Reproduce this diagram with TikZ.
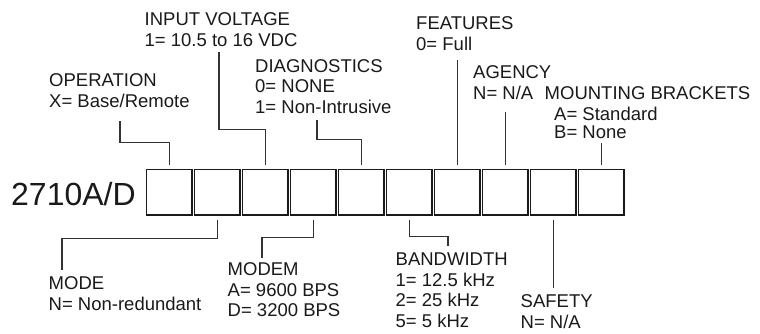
\documentclass[tikz,border=0pt]{standalone}
\usepackage{fontspec}
\setmainfont{Liberation Sans}
\usepackage{xcolor}
\usepackage{tikz}
\usetikzlibrary{calc}
\definecolor{ink}{HTML}{1A1A1A}
\definecolor{wire}{HTML}{333333}
\tikzset{
  cell/.style={draw=ink, line width=1.2pt, minimum size=45.5pt, inner sep=0pt},
  lead/.style={draw=wire, line width=1.1pt},
  lab/.style={text=ink, font=\fontsize{18.5}{20.5}\selectfont, anchor=base west, inner sep=0pt, align=left},
  big/.style={text=ink, font=\fontsize{32}{36}\selectfont, anchor=base west, inner sep=0pt},
}
\begin{document}
\begin{tikzpicture}[x=1pt,y=-1pt]
  \useasboundingbox[fill=white] (0,0) rectangle (760,333);

  % model number and the ten option cells
  \node[big] (model) at (11,205) {2710A/D};
  \foreach \i in {1,...,10}
    \node[cell] (b\i) at ({169.25+48*(\i-1)},192.25) {};

  % label ends of the leaders
  \coordinate (op) at (120,121);
  \coordinate (iv) at (219,52);
  \coordinate (dg) at (317,120);
  \coordinate (ft) at (457.25,60);
  \coordinate (ag) at (505.25,112);
  \coordinate (mb) at (601.25,143);
  \coordinate (md) at (62,270);
  \coordinate (mm) at (262,258);
  \coordinate (bw) at (448,246);
  \coordinate (sf) at (553.25,288);

  % leaders above
  \draw[lead] ([yshift=4pt]b1.north) -- ++(0,-22) -| (op);
  \draw[lead] ([yshift=4pt]b3.north) -- ++(0,-35) -| (iv);
  \draw[lead] ([yshift=4pt]b5.north) -- ++(0,-25) -| (dg);
  \draw[lead] ([yshift=4pt]b7.north) -- (ft);
  \draw[lead] ([yshift=4pt]b8.north) -- (ag);
  \draw[lead] ([yshift=4pt]b10.north) -- (mb);

  % leaders below
  \draw[lead] ([yshift=-4pt]b2.south) -- ++(0,19) -| (md);
  \draw[lead] ([yshift=-4pt]b4.south) -- ++(0,18) -| (mm);
  \draw[lead] ([yshift=-4pt]b6.south) -- ++(0,16.5) -| (bw);
  \draw[lead] ([yshift=-4pt]b9.south) -- (sf);

  % option texts (placed at the baseline of their last line)
  \node[lab] (opT) at (49,107) {OPERATION\\X= Base/Remote};
  \node[lab] (ivT) at (144.5,46) {INPUT VOLTAGE\\1= 10.5 to 16 VDC};
  \node[lab] (dgT) at (255,113) {DIAGNOSTICS\\0= NONE\\1= Non-Intrusive};
  \node[lab] (ftT) at (416,50) {FEATURES\\0= Full};
  \node[lab] (agT) at (473,99) {AGENCY\\N= N/A};
  \node[lab] (mbT) at (544.5,99) {MOUNTING BRACKETS};
  \node[lab,font=\fontsize{18.5}{18.5}\selectfont] (mbO) at (554,138.5) {A= Standard\\B= None};
  \node[lab] (mdT) at (48.5,310) {MODE\\N= Non-redundant};
  \node[lab] (mmT) at (227.5,316.5) {MODEM\\A= 9600 BPS\\D= 3200 BPS};
  \node[lab] (bwT) at (395.5,327) {BANDWIDTH\\1= 12.5 kHz\\2= 25 kHz\\5= 5 kHz};
  \node[lab] (sfT) at (520.5,328) {SAFETY\\N= N/A};
\end{tikzpicture}
\end{document}
